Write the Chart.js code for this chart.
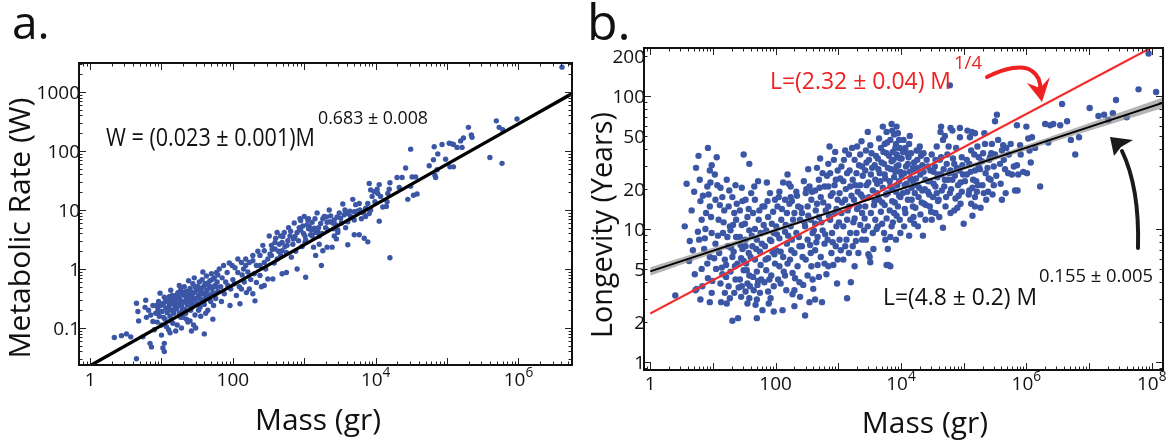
<!DOCTYPE html>
<html>
<head>
<meta charset="utf-8">
<script src="https://cdn.jsdelivr.net/npm/chart.js@4.4.0/dist/chart.umd.min.js"></script>
<style>
    html, body { margin: 0; padding: 0; background: #fff; width: 1167px; height: 444px; overflow: hidden; }
    canvas { position: absolute; top: 0; }
    #chart-a { left: 0; }
    #chart-b { left: 583px; }
</style>
</head>
<body>
<canvas id="chart-a" width="583" height="444"></canvas>
<canvas id="chart-b" width="584" height="444"></canvas>
<script>
// Все значения — десятичные логарифмы (log10)

// Панель a: [log10 масса (г), log10 метаболизм (Вт)]
const ratePts = [
    [0.34,-1.16],[0.44,-1.13],[0.51,-1.10],[0.57,-1.15],
    [0.65,-0.58],[0.67,-0.72],[0.65,-1.52],[0.74,-1.15],[0.68,-0.88],[0.78,-0.53],[0.77,-0.65],[0.79,-0.82],[0.84,-1.26],[0.86,-1.32],[0.88,-0.89],[0.90,-1.03],[0.82,-0.70],[0.85,-0.78],[0.88,-0.62],
    [0.98,-0.41],[1.02,-1.34],[1.04,-1.26],[1.00,-1.12],[1.13,-0.36],[1.10,-1.03],[1.14,-0.53],[0.92,-0.75],[0.95,-0.68],[0.97,-0.80],[0.99,-0.62],[1.01,-0.72],[1.03,-0.58],[1.05,-0.85],[1.06,-0.66],[1.08,-0.74],[1.09,-0.55],[1.11,-0.62],[1.12,-0.80],[1.14,-0.70],[1.15,-0.45],[1.16,-0.92],[1.18,-0.60],[1.19,-0.52],[0.94,-0.90],[1.00,-0.95],[1.07,-0.98],[1.12,-1.08],[1.17,-0.75],[1.04,-0.48],[0.96,-0.55],[1.04,-1.40],
    [0.93,-0.62],[0.96,-0.72],[1.01,-0.60],[1.03,-0.82],[1.06,-0.54],[1.09,-0.68],[1.11,-0.47],[1.13,-0.88],[1.16,-0.58],[1.18,-0.68],
    [1.21,-0.68],[1.22,-0.48],[1.23,-0.40],[1.24,-0.58],[1.25,-0.75],[1.26,-0.52],[1.27,-0.35],[1.28,-0.62],[1.29,-0.44],[1.30,-0.82],[1.31,-0.56],[1.32,-0.30],[1.33,-0.68],[1.34,-0.47],[1.35,-0.38],[1.36,-0.60],[1.37,-0.90],[1.38,-0.52],[1.39,-0.42],[1.40,-0.33],[1.41,-0.70],[1.42,-0.55],[1.43,-0.46],[1.44,-0.25],[1.45,-0.62],[1.46,-0.40],[1.47,-0.78],[1.48,-0.50],[1.49,-0.35],[1.22,-0.95],[1.28,-1.00],[1.35,-0.85],[1.42,-1.05],[1.25,-0.28],[1.38,-0.20],[1.46,-0.15],
    [1.20,-0.45],[1.23,-0.63],[1.26,-0.44],[1.29,-0.70],[1.31,-0.40],[1.33,-0.55],[1.36,-0.48],[1.39,-0.62],[1.41,-0.38],[1.44,-0.52],[1.47,-0.30],[1.49,-0.60],[1.27,-0.82],[1.34,-0.75],[1.40,-0.88],[1.20,-1.05],[1.48,-1.00],
    [1.50,-0.58],[1.51,-0.30],[1.52,-0.45],[1.53,-0.22],[1.54,-0.65],[1.55,-0.38],[1.56,-0.52],[1.57,-0.18],[1.58,-0.42],[1.59,-0.30],[1.60,-0.60],[1.61,-0.25],[1.62,-0.48],[1.63,-0.12],[1.64,-0.36],[1.65,-0.70],[1.66,-0.28],[1.67,-0.44],[1.68,-0.20],[1.69,-0.55],[1.70,-0.08],[1.71,-0.33],[1.72,-0.40],[1.73,-0.62],[1.74,-0.15],[1.75,-0.28],[1.76,-0.50],[1.77,-0.06],[1.78,-0.22],[1.79,-0.38],[1.55,-0.80],[1.62,-0.75],[1.72,-0.85],[1.58,-0.05],[1.45,-0.95],[1.60,-1.10],
    [1.52,-0.36],[1.54,-0.50],[1.57,-0.32],[1.59,-0.55],[1.61,-0.40],[1.64,-0.24],[1.66,-0.50],[1.69,-0.30],[1.71,-0.18],[1.74,-0.42],[1.77,-0.30],[1.79,-0.10],[1.52,-0.70],
    [1.81,0.00],[1.83,-0.30],[1.85,-0.15],[1.87,0.06],[1.88,-0.42],[1.90,-0.22],[1.92,-0.06],[1.93,-0.28],[1.95,0.10],[1.97,-0.34],[1.99,0.06],[2.00,-0.18],[2.02,-0.25],[2.03,0.02],[2.05,-0.45],[2.07,0.17],[2.07,-0.06],[2.09,-0.30],[2.10,-0.59],[2.12,0.11],[2.12,-0.34],[2.13,-0.10],[2.15,0.00],[2.16,-0.22],[2.18,0.17],[2.18,0.06],[2.19,-0.40],[1.84,-0.55],[1.96,-0.62],
    [2.21,-0.05],[2.23,0.11],[2.23,-0.34],[2.25,-0.18],[2.28,0.23],[2.28,-0.42],[2.28,0.14],[2.30,-0.08],[2.31,-0.54],[2.33,0.06],[2.33,-0.23],[2.35,0.30],[2.38,0.06],[2.38,-0.11],[2.38,0.23],[2.40,-0.30],[2.42,0.40],[2.44,0.11],[2.44,-0.28],[2.44,0.31],[2.46,0.00],[2.49,0.17],[2.49,-0.17],[2.51,0.56],[2.52,0.25],[2.54,0.40],[2.54,0.23],[2.56,-0.17],[2.58,0.10],
    [2.59,0.45],[2.59,0.34],[2.62,0.62],[2.62,0.17],[2.64,0.30],[2.67,0.56],[2.67,0.23],[2.69,0.45],[2.69,0.31],[2.69,-0.08],[2.72,0.62],[2.73,0.38],[2.75,0.28],[2.75,-0.06],[2.77,0.48],[2.78,0.70],[2.80,0.56],[2.82,0.20],[2.84,0.42],[2.85,0.51],[2.86,0.78],[2.88,0.30],[2.90,0.62],[2.90,0.00],[2.92,0.48],[2.94,0.85],[2.95,0.82],[2.95,0.66],[2.97,0.38],[2.98,0.73],
    [2.55,0.33],[2.60,0.52],[2.65,0.42],[2.70,0.55],[2.76,0.40],[2.81,0.64],[2.87,0.55],[2.93,0.70],[2.99,0.60],
    [3.00,0.89],[3.01,0.45],[3.01,0.56],[3.02,-0.14],[3.02,0.49],[3.05,0.83],[3.06,0.68],[3.06,0.85],[3.07,0.72],[3.09,0.58],[3.11,0.79],[3.11,0.56],[3.13,0.37],[3.14,0.69],[3.16,0.23],[3.16,0.62],[3.18,0.95],[3.19,0.63],[3.21,0.42],[3.21,0.56],[3.23,0.77],[3.24,0.06],[3.26,0.31],[3.26,0.85],[3.28,0.89],[3.30,0.70],[3.32,0.37],[3.32,0.79],[3.33,0.66],[3.35,1.00],[3.37,0.90],[3.39,0.37],[3.40,0.78],[3.42,0.56],[3.42,0.83],[3.44,0.75],[3.45,0.51],[3.47,0.62],[3.47,0.66],[3.49,0.95],
    [3.04,0.75],[3.10,0.66],[3.15,0.85],[3.20,0.70],[3.25,0.60],[3.31,0.88],[3.36,0.80],[3.41,0.68],[3.46,0.88],
    [3.51,0.86],[3.54,1.10],[3.56,0.92],[3.58,0.70],[3.61,0.94],[3.61,0.80],[3.61,0.41],[3.65,0.89],[3.68,1.18],[3.70,0.83],[3.70,0.58],[3.72,1.09],[3.74,0.98],[3.77,1.11],[3.77,0.58],[3.80,0.85],[3.84,0.52],[3.86,1.03],[3.86,0.89],[3.89,1.11],[3.89,0.46],[3.91,1.45],[3.91,0.94],[3.93,1.34],[3.93,1.00],[3.95,1.23],[3.98,1.31],[3.99,1.14],
    [3.52,0.78],[3.57,1.00],[3.64,0.98],[3.70,0.97],[3.78,1.00],[3.83,0.95],
    [4.02,1.35],[4.03,1.28],[4.05,1.43],[4.05,0.81],[4.07,1.23],[4.10,1.05],[4.15,1.06],[4.16,1.14],[4.17,1.28],[4.19,1.35],[4.20,1.46],[4.20,0.19],[4.30,1.55],[4.33,1.38],[4.37,1.55],[4.42,1.71],[4.45,1.18],[4.49,1.40],[4.49,2.03],[4.51,1.56],[4.53,1.25],[4.56,1.56],[4.58,1.27],
    [4.75,1.75],[4.81,1.85],[4.82,2.07],[4.83,1.59],[4.84,1.55],[4.86,1.68],[4.87,1.95],[4.93,2.11],[4.98,1.86],[5.03,2.13],[5.04,1.73],[5.07,2.12],[5.09,2.11],[5.09,1.73],[5.14,2.06],[5.19,2.17],[5.21,2.06],[5.23,2.22],[5.30,2.40],[5.34,2.27],[5.35,2.23],
    [5.60,1.89],[5.69,2.51],[5.73,2.40],[5.77,1.79],[5.78,2.36],[5.98,2.54],[6.61,3.42]
];

// Панель b: [log10 масса (г), log10 продолжительность жизни (лет)]
const lifePts = [
    [0.40,0.50],[0.73,1.46],[0.79,1.37],[0.80,1.21],[0.82,1.07],[0.68,0.84],[0.82,0.70],[0.74,0.55],[0.80,0.47],[0.72,0.54],[0.83,0.57],[0.76,0.98],[0.70,1.28],[0.78,0.92],
    [0.55,1.02],[0.62,0.76],[0.66,1.14],[0.71,0.66],[0.77,1.55],[0.84,1.25],[0.87,0.93],[0.91,0.74],[0.97,1.09],[0.99,0.61],[0.63,0.91],[0.58,1.34],
    [0.92,1.61],[0.98,1.48],[0.95,1.44],[0.91,1.32],[0.96,1.35],[0.95,1.17],[0.89,1.12],[0.98,0.97],[0.86,0.85],[0.95,0.79],[0.92,0.63],[0.98,0.52],[0.95,0.45],[0.88,1.00],[0.93,1.26],
    [1.06,1.54],[1.07,1.33],[1.12,1.31],[1.04,1.22],[1.15,1.24],[1.09,1.07],[1.16,0.97],[1.10,0.82],[1.19,0.77],[1.12,0.59],[1.19,0.52],[1.13,0.45],[1.04,0.89],[1.18,1.14],[1.05,0.70],[1.15,0.66],
    [1.03,1.41],[1.08,0.95],[1.11,1.18],[1.14,0.71],[1.17,1.05],[1.21,0.64],[1.26,1.29],[1.29,0.86],[1.32,1.03],[1.35,0.72],[1.38,1.19],[1.41,0.56],[1.44,0.88],[1.47,1.21],[1.49,0.76],[1.02,0.78],[1.27,0.48],[1.36,1.33],
    [1.22,1.37],[1.31,1.24],[1.25,1.17],[1.34,1.12],[1.28,0.99],[1.37,0.94],[1.24,0.87],[1.31,0.79],[1.39,0.74],[1.28,0.68],[1.36,0.62],[1.25,0.57],[1.34,0.52],[1.31,0.31],[1.40,0.33],[1.27,1.02],[1.37,1.07],[1.23,0.94],[1.22,0.44],[1.33,0.83],[1.21,0.73],
    [1.49,1.56],[1.58,1.49],[1.52,1.22],[1.43,1.14],[1.55,1.09],[1.46,1.03],[1.58,0.99],[1.43,0.94],[1.52,0.92],[1.47,0.85],[1.57,0.82],[1.45,0.78],[1.53,0.74],[1.49,0.69],[1.58,0.65],[1.43,0.62],[1.55,0.59],[1.46,0.57],[1.52,0.53],[1.45,0.49],[1.58,0.48],[1.55,0.44],[1.61,1.27],[1.46,1.31],[1.52,0.87],
    [1.51,1.04],[1.54,0.69],[1.57,1.15],[1.60,0.79],[1.62,0.95],[1.66,1.32],[1.69,0.85],[1.72,0.61],[1.74,1.14],[1.78,0.89],[1.81,1.03],[1.84,0.77],[1.87,1.21],[1.90,0.62],[1.93,0.91],[1.96,1.13],[1.98,0.81],[1.59,0.57],[1.68,0.43],[1.89,0.44],
    [1.64,1.12],[1.73,1.07],[1.67,1.00],[1.76,0.97],[1.70,0.92],[1.63,0.87],[1.75,0.83],[1.67,0.77],[1.76,0.73],[1.70,0.68],[1.64,0.64],[1.77,0.62],[1.71,0.58],[1.65,0.54],[1.75,0.52],[1.70,0.47],[1.79,0.39],[1.70,0.33],[1.67,1.22],[1.79,1.17],[1.72,1.36],
    [1.82,1.17],[1.88,1.09],[1.94,1.04],[1.85,0.99],[1.97,0.97],[1.91,0.92],[1.83,0.87],[1.95,0.83],[1.88,0.78],[1.99,0.74],[1.85,0.69],[1.93,0.65],[1.82,0.60],[1.97,0.57],[1.88,0.53],[1.97,0.38],[1.91,1.27],[1.99,1.22],[1.86,1.35],[1.92,0.48],
    [2.12,1.35],[2.21,1.34],[2.06,1.28],[2.15,1.22],[2.03,1.17],[2.18,1.12],[2.09,1.07],[2.01,1.02],[2.15,0.98],[2.06,0.93],[2.18,0.89],[2.01,0.84],[2.12,0.79],[2.19,0.74],[2.06,0.72],[2.15,0.65],[2.08,0.59],[2.17,0.54],[2.11,0.39],
    [2.02,0.96],[2.05,1.24],[2.08,0.83],[2.10,1.15],[2.13,0.68],[2.16,1.03],[2.20,0.95],[2.22,1.19],[2.25,0.84],[2.28,1.07],[2.31,0.63],[2.34,1.25],[2.37,0.94],[2.40,1.16],[2.43,0.79],[2.46,1.05],[2.49,1.30],[2.04,0.62],[2.27,0.51],[2.44,0.58],[2.19,1.41],
    [2.24,1.32],[2.33,1.28],[2.26,1.21],[2.36,1.17],[2.30,1.12],[2.39,1.07],[2.24,1.02],[2.33,0.97],[2.26,0.92],[2.38,0.87],[2.30,0.82],[2.23,0.77],[2.35,0.72],[2.27,0.67],[2.38,0.60],[2.30,0.54],[2.47,0.35],[2.39,0.49],[2.24,1.24],[2.30,0.42],
    [2.45,1.36],[2.54,1.32],[2.48,1.27],[2.57,1.22],[2.51,1.17],[2.42,1.12],[2.56,1.07],[2.47,1.02],[2.59,0.97],[2.51,0.92],[2.42,0.87],[2.56,0.82],[2.48,0.77],[2.57,0.72],[2.51,0.65],[2.59,0.62],[2.54,0.45],[2.52,1.45],
    [2.52,1.10],[2.55,0.88],[2.58,1.28],[2.61,0.99],[2.64,1.14],[2.67,0.73],[2.70,1.31],[2.73,1.05],[2.76,1.20],[2.79,0.96],[2.82,1.40],[2.85,1.10],[2.88,1.25],[2.91,0.90],[2.94,1.33],[2.97,1.15],[2.99,1.44],[2.60,0.55],[2.81,0.66],[2.92,0.73],[2.71,1.53],[2.86,1.62],[2.65,0.90],
    [2.66,1.46],[2.75,1.42],[2.69,1.37],[2.78,1.32],[2.63,1.29],[2.72,1.24],[2.66,1.19],[2.80,1.14],[2.69,1.09],[2.63,1.04],[2.75,0.99],[2.67,0.94],[2.78,0.89],[2.63,0.84],[2.72,0.79],[2.78,0.74],[2.69,0.64],[2.63,0.47],[2.74,0.45],
    [2.84,1.49],[2.93,1.52],[2.87,1.42],[2.96,1.37],[2.84,1.32],[2.91,1.27],[2.99,1.22],[2.84,1.17],[2.94,1.12],[2.87,1.07],[2.97,1.02],[2.90,0.97],[2.83,0.92],[2.96,0.87],[2.89,0.82],[2.99,0.77],[2.84,0.72],[2.98,0.59],[2.95,1.58],
    [3.11,1.59],[3.17,1.56],[3.05,1.47],[3.14,1.42],[3.08,1.36],[3.19,1.32],[3.02,1.27],[3.11,1.22],[3.17,1.17],[3.05,1.12],[3.14,1.07],[3.08,1.02],[3.19,0.97],[3.02,0.92],[3.11,0.87],[3.17,0.82],[3.08,0.77],[3.14,0.48],[3.20,0.60],
    [3.01,1.05],[3.03,1.38],[3.06,1.20],[3.09,1.52],[3.12,1.30],[3.15,1.14],[3.18,1.44],[3.21,1.25],[3.24,1.05],[3.27,1.33],[3.30,1.15],[3.33,1.48],[3.36,1.26],[3.39,1.40],[3.42,1.08],[3.45,1.50],[3.48,1.35],[3.13,0.92],[3.28,0.91],[3.41,0.99],[3.22,1.61],[3.37,1.66],[3.04,0.84],
    [3.35,1.56],[3.26,1.52],[3.38,1.47],[3.29,1.42],[3.23,1.37],[3.35,1.33],[3.31,1.28],[3.39,1.24],[3.25,1.22],[3.33,1.17],[3.38,1.12],[3.26,1.08],[3.35,1.03],[3.29,0.97],[3.38,0.92],[3.23,0.87],[3.32,0.82],[3.26,0.72],[3.30,1.62],
    [3.47,1.73],[3.44,1.59],[3.53,1.57],[3.49,1.52],[3.58,1.48],[3.43,1.44],[3.52,1.41],[3.59,1.37],[3.45,1.33],[3.55,1.29],[3.49,1.24],[3.58,1.21],[3.43,1.17],[3.52,1.12],[3.59,1.07],[3.47,1.02],[3.55,0.97],[3.44,0.92],[3.56,0.85],[3.50,0.79],[3.48,0.81],[3.51,0.75],
    [3.51,1.63],[3.54,1.46],[3.57,1.18],[3.60,1.55],[3.62,1.27],[3.64,1.45],[3.67,1.36],[3.69,1.50],[3.70,1.20],[3.72,1.58],[3.74,1.41],[3.76,1.26],[3.78,1.65],[3.81,1.55],[3.82,1.36],[3.84,1.45],[3.86,1.30],[3.88,1.52],[3.90,1.20],[3.91,1.43],[3.93,1.56],[3.94,1.33],[3.96,1.48],[3.97,1.25],[3.99,1.53],[3.82,1.14],[3.87,1.05],[3.93,1.10],[3.70,1.04],[3.61,1.00],[3.85,1.79],[3.93,1.77],
    [3.71,1.77],[3.77,1.73],[3.65,1.68],[3.74,1.64],[3.68,1.61],[3.77,1.57],[3.63,1.53],[3.73,1.49],[3.79,1.46],[3.66,1.42],[3.75,1.38],[3.62,1.34],[3.71,1.31],[3.79,1.27],[3.65,1.22],[3.74,1.18],[3.68,1.13],[3.77,1.08],[3.63,1.02],[3.73,0.97],[3.79,0.85],[3.80,0.73],[3.75,0.92],[3.77,0.73],
    [3.86,1.74],[3.95,1.72],[3.83,1.67],[3.92,1.64],[3.98,1.61],[3.87,1.58],[3.95,1.54],[3.85,1.51],[3.93,1.47],[3.99,1.43],[3.89,1.39],[3.97,1.36],[3.83,1.32],[3.92,1.28],[3.99,1.24],[3.86,1.21],[3.95,1.17],[3.89,1.12],[3.98,1.07],[3.85,1.02],[3.83,0.72],[3.92,0.92],[3.89,1.71],[3.97,1.67],[3.91,1.61],[3.83,0.94],[3.99,0.97],
    [4.01,1.40],[4.03,1.58],[4.06,1.33],[4.08,1.47],[4.10,1.28],[4.12,1.54],[4.14,1.43],[4.17,1.22],[4.19,1.36],[4.21,1.50],[4.22,1.27],[4.24,1.38],[4.27,1.46],[4.29,1.31],[4.32,1.55],[4.33,1.20],[4.36,1.43],[4.38,1.30],[4.41,1.52],[4.43,1.36],[4.45,1.26],[4.47,1.44],[4.48,1.13],[4.06,1.15],[4.21,1.04],[4.30,1.62],[4.14,1.70],[4.40,1.18],
    [4.04,1.67],[4.13,1.64],[4.07,1.61],[4.16,1.57],[4.01,1.53],[4.11,1.49],[4.19,1.46],[4.05,1.42],[4.15,1.38],[4.09,1.34],[4.17,1.31],[4.03,1.27],[4.11,1.22],[4.19,1.17],[4.07,1.12],[4.15,1.07],[4.05,1.02],[4.13,0.95],[4.10,1.57],[4.20,1.09],
    [4.28,1.59],[4.26,1.52],[4.34,1.48],[4.23,1.44],[4.31,1.41],[4.39,1.37],[4.26,1.33],[4.34,1.29],[4.28,1.24],[4.37,1.19],[4.23,1.16],[4.31,1.11],[4.39,1.07],[4.27,1.02],[4.35,0.95],[4.36,1.57],[4.25,1.59],
    [4.49,1.56],[4.55,1.52],[4.43,1.47],[4.52,1.43],[4.58,1.39],[4.46,1.36],[4.55,1.32],[4.43,1.28],[4.51,1.24],[4.59,1.21],[4.46,1.17],[4.55,1.12],[4.49,1.07],
    [4.52,1.34],[4.54,1.47],[4.57,1.27],[4.60,1.41],[4.62,1.52],[4.65,1.29],[4.68,1.45],[4.70,1.37],[4.72,1.24],[4.74,1.56],[4.77,1.42],[4.80,1.30],[4.83,1.53],[4.86,1.40],[4.89,1.46],[4.92,1.25],[4.95,1.35],[4.98,1.48],[4.57,1.62],[4.70,1.70],[4.90,1.16],[4.61,1.09],
    [4.64,1.77],[4.79,1.76],[4.67,1.67],[4.76,1.62],[4.64,1.54],[4.73,1.49],[4.79,1.44],[4.64,1.41],[4.75,1.37],[4.69,1.32],[4.78,1.27],[4.60,1.22],[4.71,1.17],[4.79,1.12],[4.67,1.01],[4.63,1.73],[4.78,2.08],
    [4.82,1.74],[4.94,1.76],[4.88,1.61],[4.97,1.54],[4.85,1.49],[4.93,1.44],[4.99,1.41],[4.82,1.37],[4.91,1.33],[4.97,1.28],[4.87,1.23],[4.95,1.19],[4.85,1.14],[4.94,1.69],[5.00,1.04],
    [5.02,1.36],[5.05,1.52],[5.08,1.26],[5.11,1.43],[5.14,1.31],[5.17,1.56],[5.20,1.36],[5.22,1.62],[5.26,1.45],[5.29,1.51],[5.32,1.27],[5.34,1.64],[5.38,1.46],[5.40,1.38],[5.44,1.57],[5.46,1.26],[5.14,1.10],[5.27,1.16],
    [5.06,1.74],[5.18,1.72],[5.12,1.59],[5.24,1.54],[5.09,1.49],[5.18,1.44],[5.05,1.41],[5.15,1.37],[5.23,1.33],[5.09,1.29],[5.18,1.24],[5.12,1.19],[5.24,1.47],[5.13,1.73],[5.10,1.69],[5.21,1.28],[5.18,1.17],
    [5.33,1.72],[5.45,1.64],[5.31,1.57],[5.41,1.52],[5.48,1.47],[5.35,1.42],[5.43,1.37],[5.30,1.33],[5.39,1.28],[5.48,1.33],[5.36,1.22],[5.42,1.54],
    [5.52,1.40],[5.55,1.67],[5.59,1.34],[5.64,1.52],[5.66,1.45],[5.72,1.56],[5.75,1.64],[5.91,1.56],[5.95,1.43],[6.07,1.50],[5.67,1.27],[5.90,1.63],
    [5.53,1.86],[5.50,1.81],[5.50,1.56],[5.58,1.49],[5.63,1.63],[5.68,1.61],[5.61,1.59],[5.61,1.22],[5.71,1.42],[5.77,1.41],[5.87,1.41],[5.85,1.48],[5.80,1.47],[5.85,1.78],[5.82,1.29],[5.86,1.29],[6.00,1.77],[6.01,1.42],[6.03,1.68],[6.09,1.69],[6.14,1.61],[6.05,1.59],[6.22,1.32],
    [6.30,1.79],[6.38,1.78],[6.43,1.79],[6.54,1.78],[6.65,1.81],[6.57,1.94],[6.35,1.65],[6.71,1.67],[6.84,1.69],[6.78,1.56],[7.01,1.91],[7.15,1.85],[7.24,1.86],[7.38,1.87],[7.43,1.97],[7.31,1.82],[7.60,1.84],[7.79,2.05],[8.07,2.03],[7.95,2.32]
];

// Линии аппроксимации и доверительные полосы (log10)
const fitMassA = [0, 6.75];
const fitRateA = [-1.64, 2.97];
const bandMassA = [0, 2, 4, 5.5, 6.75];
const bandHiA = [-1.62, -0.27, 1.10, 2.14, 3.01];
const bandLoA = [-1.66, -0.28, 1.08, 2.10, 2.93];

const fitMassB = [0, 8.2];
const fitLifeB = [0.681, 1.952];
const bandMassB = [0, 2, 3.7, 6, 8.2];
const bandHiB = [0.713, 1.005, 1.263, 1.631, 1.992];
const bandLoB = [0.649, 0.977, 1.247, 1.591, 1.912];

const quarterMassB = [0, 8.2];
const quarterLifeB = [0.365, 2.415];
const quarterHiB = [0.378, 2.428];
const quarterLoB = [0.352, 2.402];

// Подписи делений
const xTicksA = [0, 2, 4, 6];
const xTickTextA = ['1', '100', '10^4', '10^6'];
const yTicksA = [-1, 0, 1, 2, 3];
const yTickTextA = ['0.1', '1', '10', '100', '1000'];
const xTicksB = [0, 2, 4, 6, 8];
const xTickTextB = ['1', '100', '10^4', '10^6', '10^8'];
const yTickValsB = [1, 2, 5, 10, 20, 50, 100, 200];

const FONT = '"Open Sans", "DejaVu Sans", sans-serif';
const DOT = '#3c56a6';

function toXY(lx, ly) {
    return { x: Math.pow(10, lx), y: Math.pow(10, ly) };
}
function zip(xs, ys) {
    return xs.map((v, i) => toXY(v, ys[i]));
}

function text(ctx, s, x, y, size, align, color, maxWidth) {
    ctx.font = size + 'px ' + FONT;
    ctx.fillStyle = color || '#111';
    ctx.textAlign = align || 'left';
    ctx.textBaseline = 'alphabetic';
    // y — центр заглавных букв
    if (maxWidth) ctx.fillText(s, x, y + size * 0.36, maxWidth);
    else ctx.fillText(s, x, y + size * 0.36);
}

// подпись вида 10^4
function powLabel(ctx, s, cx, cy, size) {
    const parts = s.split('^');
    ctx.font = size + 'px ' + FONT;
    const wBase = ctx.measureText(parts[0]).width;
    let wExp = 0;
    if (parts[1]) {
        ctx.font = (size * 0.72) + 'px ' + FONT;
        wExp = ctx.measureText(parts[1]).width;
    }
    const left = cx - (wBase + wExp) / 2;
    text(ctx, parts[0], left, cy, size, 'left');
    if (parts[1]) text(ctx, parts[1], left + wBase, cy - size * 0.38, size * 0.72, 'left');
}

function logTicks(ctx, chart) {
    const a = chart.chartArea;
    ctx.strokeStyle = '#222';
    ctx.lineWidth = 1;
    ['x', 'y'].forEach(axis => {
        const sc = chart.scales[axis];
        const lo = Math.floor(Math.log10(sc.min)), hi = Math.ceil(Math.log10(sc.max));
        for (let d = lo; d <= hi; d++) {
            for (let k = 1; k < 10; k++) {
                const v = k * Math.pow(10, d);
                if (v < sc.min || v > sc.max) continue;
                const p = Math.round(sc.getPixelForValue(v)) + 0.5;
                const len = k === 1 ? 7 : 3.5;
                ctx.beginPath();
                if (axis === 'x') {
                    ctx.moveTo(p, a.bottom); ctx.lineTo(p, a.bottom - len);
                    ctx.moveTo(p, a.top); ctx.lineTo(p, a.top + len);
                } else {
                    ctx.moveTo(a.left, p); ctx.lineTo(a.left + len, p);
                    ctx.moveTo(a.right, p); ctx.lineTo(a.right - len, p);
                }
                ctx.stroke();
            }
        }
    });
    ctx.lineWidth = 2;
    ctx.strokeStyle = '#111';
    ctx.strokeRect(a.left, a.top, a.right - a.left, a.bottom - a.top);
}

function baseOptions(xr, yr, pad) {
    return {
        responsive: false,
        animation: false,
        events: [],
        layout: { padding: pad },
        plugins: { legend: { display: false }, tooltip: { enabled: false } },
        scales: {
            x: { type: 'logarithmic', display: false, min: Math.pow(10, xr[0]), max: Math.pow(10, xr[1]) },
            y: { type: 'logarithmic', display: false, min: Math.pow(10, yr[0]), max: Math.pow(10, yr[1]) }
        }
    };
}

function lineSet(data, color, width, order) {
    return { type: 'line', showLine: true, data: data, borderColor: color, borderWidth: width,
             pointRadius: 0, tension: 0, fill: false, order: order };
}
function bandSet(data, fillColor, order) {
    return { type: 'line', showLine: true, data: data, borderColor: 'rgba(0,0,0,0)', borderWidth: 0,
             pointRadius: 0, tension: 0.4, backgroundColor: fillColor, fill: '-1', order: order };
}

// ---------- Панель a ----------
const decorA = {
    id: 'decorA',
    afterDraw(chart) {
        const ctx = chart.ctx, a = chart.chartArea;
        ctx.save();
        logTicks(ctx, chart);
        xTicksA.forEach((d, i) => powLabel(ctx, xTickTextA[i], chart.scales.x.getPixelForValue(Math.pow(10, d)), a.bottom + 14, 19));
        yTicksA.forEach((d, i) => text(ctx, yTickTextA[i], a.left + 1, chart.scales.y.getPixelForValue(Math.pow(10, d)), 19, 'right'));
        text(ctx, 'Mass (gr)', 318, 419, 30, 'center', '#111', 126);
        ctx.save();
        ctx.translate(19, 228);
        ctx.rotate(-Math.PI / 2);
        text(ctx, 'Metabolic Rate (W)', 0, 0, 30, 'center', '#111', 262);
        ctx.restore();
        text(ctx, 'W = (0.023 \u00b1 0.001)M', 106, 137, 25, 'left', '#111', 209);
        text(ctx, '0.683 \u00b1 0.008', 318, 117, 19, 'left', '#111', 110);
        text(ctx, 'a.', 12, 22, 46, 'left', '#111');
        ctx.restore();
    }
};

new Chart(document.getElementById('chart-a'), {
    type: 'scatter',
    data: {
        datasets: [
            lineSet(zip(fitMassA, fitRateA), '#000', 3.2, 0),
            lineSet(zip(bandMassA, bandHiA), 'rgba(0,0,0,0)', 0, 1),
            bandSet(zip(bandMassA, bandLoA), 'rgba(110,110,110,0.7)', 1),
            { data: ratePts.map(p => toXY(p[0], p[1])), backgroundColor: DOT, borderWidth: 0, pointRadius: 2.7, order: 3 }
        ]
    },
    options: baseOptions([-0.13, 6.75], [-1.627, 3.49], { left: 79, right: 11, top: 63, bottom: 79 }),
    plugins: [decorA]
});

// ---------- Панель b ----------
const decorB = {
    id: 'decorB',
    afterDraw(chart) {
        const ctx = chart.ctx, a = chart.chartArea;
        ctx.save();
        logTicks(ctx, chart);
        xTicksB.forEach((d, i) => powLabel(ctx, xTickTextB[i], chart.scales.x.getPixelForValue(Math.pow(10, d)), a.bottom + 13, 19));
        yTickValsB.forEach(v => text(ctx, String(v), a.left + 1, chart.scales.y.getPixelForValue(v), 19, 'right'));
        text(ctx, 'Mass (gr)', 342, 422, 30, 'center', '#111', 130);
        ctx.save();
        ctx.translate(18, 225);
        ctx.rotate(-Math.PI / 2);
        text(ctx, 'Longevity (Years)', 0, 0, 30, 'center', '#111', 226);
        ctx.restore();
        text(ctx, 'b.', 4, 22, 50, 'left', '#111');

        const red = '#ee2222';
        text(ctx, 'L=(2.32 \u00b1 0.04) M', 187, 80, 24, 'left', red, 181);
        text(ctx, '1/4', 371, 62, 19, 'left', red, 28);
        text(ctx, 'L=(4.8 \u00b1 0.2) M', 300, 296, 24, 'left', '#111', 154);
        text(ctx, '0.155 \u00b1 0.005', 456, 275, 19, 'left', '#111', 114);

        // красная стрелка
        ctx.lineCap = 'round';
        ctx.strokeStyle = red;
        ctx.fillStyle = red;
        ctx.lineWidth = 4;
        ctx.beginPath();
        ctx.moveTo(404, 77);
        ctx.bezierCurveTo(422, 68, 440, 64, 449, 71);
        ctx.bezierCurveTo(456, 76, 458, 82, 457, 90);
        ctx.stroke();
        ctx.beginPath();
        ctx.moveTo(459, 102);
        ctx.lineTo(444, 83);
        ctx.lineTo(457, 88);
        ctx.lineTo(467, 77);
        ctx.closePath();
        ctx.fill();

        // чёрная стрелка
        ctx.strokeStyle = '#1a1a1a';
        ctx.fillStyle = '#1a1a1a';
        ctx.lineWidth = 4;
        ctx.beginPath();
        ctx.moveTo(555, 248);
        ctx.bezierCurveTo(556, 212, 552, 178, 539, 151);
        ctx.stroke();
        ctx.beginPath();
        ctx.moveTo(527, 137);
        ctx.lineTo(550, 140);
        ctx.lineTo(538, 147);
        ctx.lineTo(531, 156);
        ctx.closePath();
        ctx.fill();
        ctx.restore();
    }
};

new Chart(document.getElementById('chart-b'), {
    type: 'scatter',
    data: {
        datasets: [
            lineSet(zip(fitMassB, fitLifeB), '#000', 1.8, 0),
            lineSet(zip(bandMassB, bandHiB), 'rgba(0,0,0,0)', 0, 1),
            bandSet(zip(bandMassB, bandLoB), 'rgba(140,140,140,0.65)', 1),
            lineSet(zip(quarterMassB, quarterLifeB), '#f02020', 1.8, 0),
            lineSet(zip(quarterMassB, quarterHiB), 'rgba(0,0,0,0)', 0, 1),
            bandSet(zip(quarterMassB, quarterLoB), 'rgba(255,130,130,0.45)', 1),
            { data: lifePts.map(p => toXY(p[0], p[1])), backgroundColor: DOT, borderWidth: 0, pointRadius: 3.2, order: 3 }
        ]
    },
    options: baseOptions([-0.1, 8.18], [-0.06, 2.361], { left: 61, right: 4, top: 48, bottom: 74 }),
    plugins: [decorB]
});
</script>
</body>
</html>
